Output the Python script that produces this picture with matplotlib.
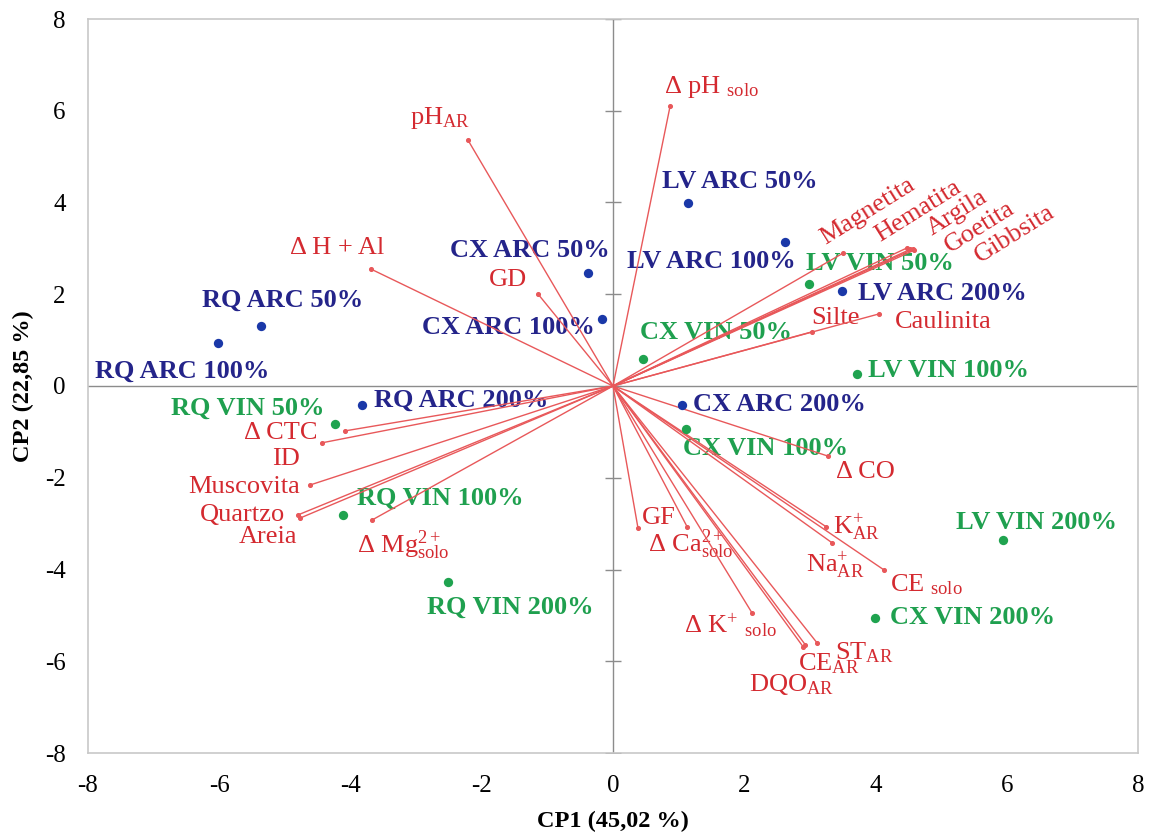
import matplotlib
matplotlib.use("Agg")
import matplotlib.pyplot as plt

plt.rcParams['font.family'] = ['Liberation Serif', 'DejaVu Serif']
plt.rcParams['mathtext.fontset'] = 'custom'
plt.rcParams['mathtext.rm'] = 'Liberation Serif'
plt.rcParams['mathtext.it'] = 'Liberation Serif:italic'
plt.rcParams['mathtext.bf'] = 'Liberation Serif:bold'

# ---------------- data ----------------
score_labels = ['RQ ARC 100%', 'RQ ARC 50%', 'RQ ARC 200%', 'CX ARC 50%', 'CX ARC 100%',
                'LV ARC 50%', 'LV ARC 100%', 'LV ARC 200%', 'CX ARC 200%',
                'RQ VIN 50%', 'RQ VIN 100%', 'RQ VIN 200%', 'CX VIN 50%', 'CX VIN 100%',
                'CX VIN 200%', 'LV VIN 50%', 'LV VIN 100%', 'LV VIN 200%']
score_x = [-6.02, -5.37, -3.83, -0.38, -0.17, 1.14, 2.62, 3.49, 1.05,
           -4.24, -4.12, -2.52, 0.46, 1.11, 3.99, 2.99, 3.72, 5.95]
score_y = [0.94, 1.31, -0.41, 2.46, 1.46, 3.99, 3.14, 2.07, -0.41,
           -0.83, -2.81, -4.27, 0.59, -0.94, -5.05, 2.22, 0.26, -3.36]
score_group = ['ARC'] * 9 + ['VIN'] * 9

loading_labels = [r'Δ pH $_{\mathrm{solo}}$', r'pH$_{\mathrm{AR}}$', 'Δ H + Al', 'GD',
                  'Δ CTC', 'ID', 'Muscovita', 'Quartzo', 'Areia',
                  r'Δ Mg$^{2+}_{\mathrm{solo}}$', 'Magnetita', 'Hematita', 'Argila',
                  'Goetita', 'Gibbsita', 'Silte', 'Caulinita', 'Δ CO',
                  r'K$^{+}_{\mathrm{AR}}$', r'Na$^{+}_{\mathrm{AR}}$', r'CE $_{\mathrm{solo}}$',
                  'GF', r'Δ Ca$^{2+}_{\mathrm{solo}}$', r'Δ K$^{+}$ $_{\mathrm{solo}}$',
                  r'CE$_{\mathrm{AR}}$', r'ST$_{\mathrm{AR}}$', r'DQO$_{\mathrm{AR}}$']
loading_x = [0.87, -2.21, -3.69, -1.14, -4.09, -4.44, -4.62, -4.80, -4.77, -3.67,
             3.51, 4.48, 4.53, 4.57, 4.59, 3.03, 4.05, 3.28, 3.25, 3.34, 4.13,
             0.38, 1.13, 2.12, 2.93, 3.11, 2.90]
loading_y = [6.10, 5.36, 2.55, 2.00, -0.98, -1.24, -2.16, -2.81, -2.88, -2.92,
             2.90, 3.01, 2.98, 2.98, 2.96, 1.18, 1.57, -1.53, -3.07, -3.42, -4.01,
             -3.09, -3.07, -4.95, -5.64, -5.60, -5.69]

ticks = [-8, -6, -4, -2, 0, 2, 4, 6, 8]
xlabel = 'CP1 (45,02 %)'
ylabel = 'CP2 (22,85 %)'

# ---------------- label layout (pixel offsets, alignment) ----------------
score_off = [(-36, -28, 'center'), (22, 26, 'center'), (12, 5, 'left'), (-58, 23, 'center'),
             (-7, -8, 'right'), (52, 21, 'center'), (-74, -20, 'center'), (16, -2, 'left'),
             (11, 0, 'left'), (-10, 16, 'right'), (14, 17, 'left'), (63, -25, 'center'),
             (73, 26, 'center'), (80, -19, 'center'), (15, 0, 'left'), (71, 21, 'center'),
             (11, 4, 'left'), (33, 18, 'center')]
load_off = [(41, 19, 'center', 0), (-28, 22, 'center', 0), (-34, 21, 'center', 0),
            (-30, 14, 'center', 0), (-27, -2, 'right', 0), (-36, -16, 'center', 0),
            (-10, -2, 'right', 0), (-13, 0, 'right', 0), (-32, -19, 'center', 0),
            (31, -25, 'center', 0), (24, 42, 'center', 32), (11, 37, 'center', 32),
            (47, 36, 'center', 32), (67, 22, 'center', 32), (101, 16, 'center', 32),
            (24, 14, 'center', 0), (16, -8, 'left', 0), (37, -16, 'center', 0),
            (7, 0, 'left', 0), (3, -22, 'center', 0), (42, -15, 'center', 0),
            (4, 10, 'left', 0), (3, -18, 'center', 0), (-22, -12, 'center', 0),
            (24, -19, 'center', 0), (47, -10, 'center', 0), (-12, -37, 'center', 0)]

dot_col = {'ARC': '#1a38a8', 'VIN': '#1fa34f'}
txt_col = {'ARC': '#24248a', 'VIN': '#1fa04f'}
red_txt = '#d42a30'
red_line = '#e8585a'

# ---------------- figure ----------------
fig = plt.figure(figsize=(11.5, 8.36), dpi=100)
ax = fig.add_axes([88 / 1150, 1 - 753 / 836, 1050 / 1150, 734 / 836])
ax.set_xlim(-8, 8)
ax.set_ylim(-8, 8)

for s in ax.spines.values():
    s.set_color('#c8c8c8')
    s.set_linewidth(1.2)

ax.axhline(0, color='#8c8c8c', lw=1.0, zorder=1)
ax.axvline(0, color='#8c8c8c', lw=1.0, zorder=1)
ax.plot([0] * len(ticks), ticks, linestyle='none', marker='_', markersize=12,
        markeredgewidth=1.0, color='#8c8c8c', zorder=1)

ax.set_xticks(ticks)
ax.set_yticks(ticks)
ax.set_xticklabels([str(t) for t in ticks])
ax.set_yticklabels([str(t) for t in ticks])
ax.tick_params(length=0, labelsize=18, pad=16)

ax.set_xlabel(xlabel, fontsize=17.5, fontweight='bold', labelpad=10)
ax.set_ylabel(ylabel, fontsize=17.5, fontweight='bold', labelpad=8)

# loadings
for lx, ly in zip(loading_x, loading_y):
    ax.plot([0, lx], [0, ly], color=red_line, lw=1.0, zorder=3)
ax.scatter(loading_x, loading_y, s=7, color=red_line, zorder=4)
for lab, lx, ly, (dx, dy, ha, rot) in zip(loading_labels, loading_x, loading_y, load_off):
    ax.annotate(lab, (lx, ly), xytext=(dx, dy), textcoords='offset pixels',
                ha=ha, va='center', rotation=rot, rotation_mode='anchor',
                fontsize=19, color=red_txt, zorder=2)

# scores
for g in ['ARC', 'VIN']:
    xs = [x for x, gg in zip(score_x, score_group) if gg == g]
    ys = [y for y, gg in zip(score_y, score_group) if gg == g]
    ax.scatter(xs, ys, s=45, color=dot_col[g], zorder=5, linewidths=0)
for lab, sx, sy, g, (dx, dy, ha) in zip(score_labels, score_x, score_y, score_group, score_off):
    ax.annotate(lab, (sx, sy), xytext=(dx, dy), textcoords='offset pixels',
                ha=ha, va='center', fontsize=19, fontweight='bold',
                color=txt_col[g], zorder=2)

fig.savefig('out.png', dpi=100)
